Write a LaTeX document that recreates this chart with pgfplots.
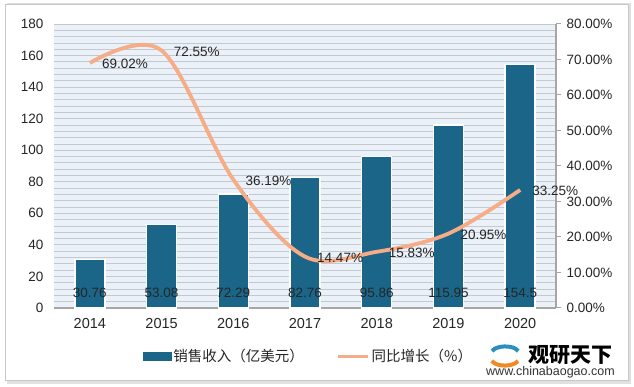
\documentclass[border=0pt]{standalone}
\usepackage{pgfplots}
\pgfplotsset{compat=1.18}
\pgfplotsset{/pgf/number format/assume math mode=true}
\usepackage{pgfplotstable}
\usepackage{fontspec}
\setmainfont{Liberation Sans}
\newfontfamily\cjk{Noto Sans CJK SC}
\definecolor{barc}{HTML}{1B6588}
\definecolor{linec}{HTML}{F6AC86}
\definecolor{bgc}{HTML}{EBF1F8}
\definecolor{gridc}{HTML}{C5C9CE}
\definecolor{txt}{HTML}{262626}
\definecolor{axc}{HTML}{A6A6A6}
\definecolor{logob}{HTML}{2A8FC0}
\definecolor{logoo}{HTML}{F08A24}

\pgfplotstableread{
x sales growth
0 30.76 69.02
1 53.08 72.55
2 72.29 36.19
3 82.76 14.47
4 95.86 15.83
5 115.95 20.95
6 154.5 33.25
}\data

\begin{document}
\begin{tikzpicture}[x=1pt,y=1pt]
\useasboundingbox (0,0) rectangle (634,387);
\fill[white] (0,0) rectangle (634,387);
\fill[black!12] (7,3) rectangle (631,384);
\fill[white,draw=black!22,line width=1pt] (5,6) rectangle (628,382);

\begin{axis}[
  at={(54pt,79pt)}, anchor=south west, scale only axis,
  width=502pt, height=284pt,
  xmin=-0.5, xmax=6.5, ymin=0, ymax=180,
  xtick={0,...,6},
  xticklabels={2014,2015,2016,2017,2018,2019,2020},
  ytick={0,20,...,180},
  minor y tick num=4,
  ymajorgrids, yminorgrids,
  major grid style={gridc, line width=0.8pt},
  minor grid style={gridc, line width=0.8pt},
  axis background/.style={fill=bgc},
  axis x line*=bottom, axis y line*=left,
  y axis line style={draw=none},
  x axis line style={axc, line width=1.2pt},
  major tick style={draw=none}, minor tick style={draw=none},
  yticklabel style={font=\fontsize{13.5}{15}\selectfont, text=txt, xshift=-7pt},
  xticklabel style={font=\fontsize{14.5}{16}\selectfont, text=txt, yshift=-7pt},
  clip=false,
]
\addplot[ybar, bar width=30pt, fill=barc, draw=white, line width=1.3pt]
  table[x=x, y=sales]{\data};
\addplot[only marks, mark=none, point meta=explicit,
  nodes near coords={\pgfmathprintnumber{\pgfplotspointmeta}},
  every node near coord/.append style={anchor=center, text=txt,
    font=\fontsize{13.5}{15}\selectfont}]
  table[x=x, y expr=9.5, meta=sales]{\data};
\end{axis}

\begin{axis}[
  at={(54pt,79pt)}, anchor=south west, scale only axis,
  width=502pt, height=284pt,
  xmin=-0.5, xmax=6.5, ymin=0, ymax=80,
  axis x line=none, axis y line*=right,
  y axis line style={axc, line width=1.2pt},
  ytick={0,10,...,80},
  yticklabel={\pgfmathprintnumber[fixed,fixed zerofill,precision=2]{\tick}\%},
  tick align=outside, major tick length=5pt,
  major tick style={axc, line width=1pt},
  yticklabel style={font=\fontsize{13.5}{15}\selectfont, text=txt, xshift=2pt},
  clip=false,
  legend style={at={(0.141,-0.128)}, anchor=north west, fill=white, draw=none,
    inner xsep=18pt, inner ysep=3pt,
    font=\cjk\fontsize{14.5}{17}\selectfont, text=txt,
    /tikz/every even column/.append style={column sep=30pt}},
  legend columns=2,
  legend cell align=left,
]
\addplot[linec, line width=3.8pt, smooth, tension=0.55, mark=none, forget plot,
  nodes near coords={\pgfmathprintnumber[fixed,fixed zerofill,precision=2]{\pgfplotspointmeta}\%},
  every node near coord/.append style={anchor=west, xshift=7pt, yshift=-1pt, text=txt,
    font=\fontsize{13.5}{15}\selectfont}]
  table[x=x, y=growth]{\data};
\addlegendimage{legend image code/.code={\fill[barc] (0pt,-4pt) rectangle (28pt,4pt);}}
\addlegendentry{销售收入（亿美元）}
\addlegendimage{legend image code/.code={\draw[linec, line width=3.8pt] (0pt,0pt) -- (30pt,0pt);}}
\addlegendentry{同比增长（\%）}
\end{axis}

% logo
\draw[logob, line width=4pt] (492,36) arc[start angle=160, end angle=20, x radius=14, y radius=7];
\draw[logoo, line width=4pt] (518,26) arc[start angle=-20, end angle=-160, x radius=14, y radius=7];
\node[font=\cjk\bfseries\fontsize{21}{22}\selectfont, anchor=west, inner sep=0pt] at (528,32) {观研天下};
\node[font=\fontsize{12.5}{14}\selectfont, text=black!80, anchor=west, inner sep=0pt] at (486,15) {www.chinabaogao.com};
\end{tikzpicture}
\end{document}
